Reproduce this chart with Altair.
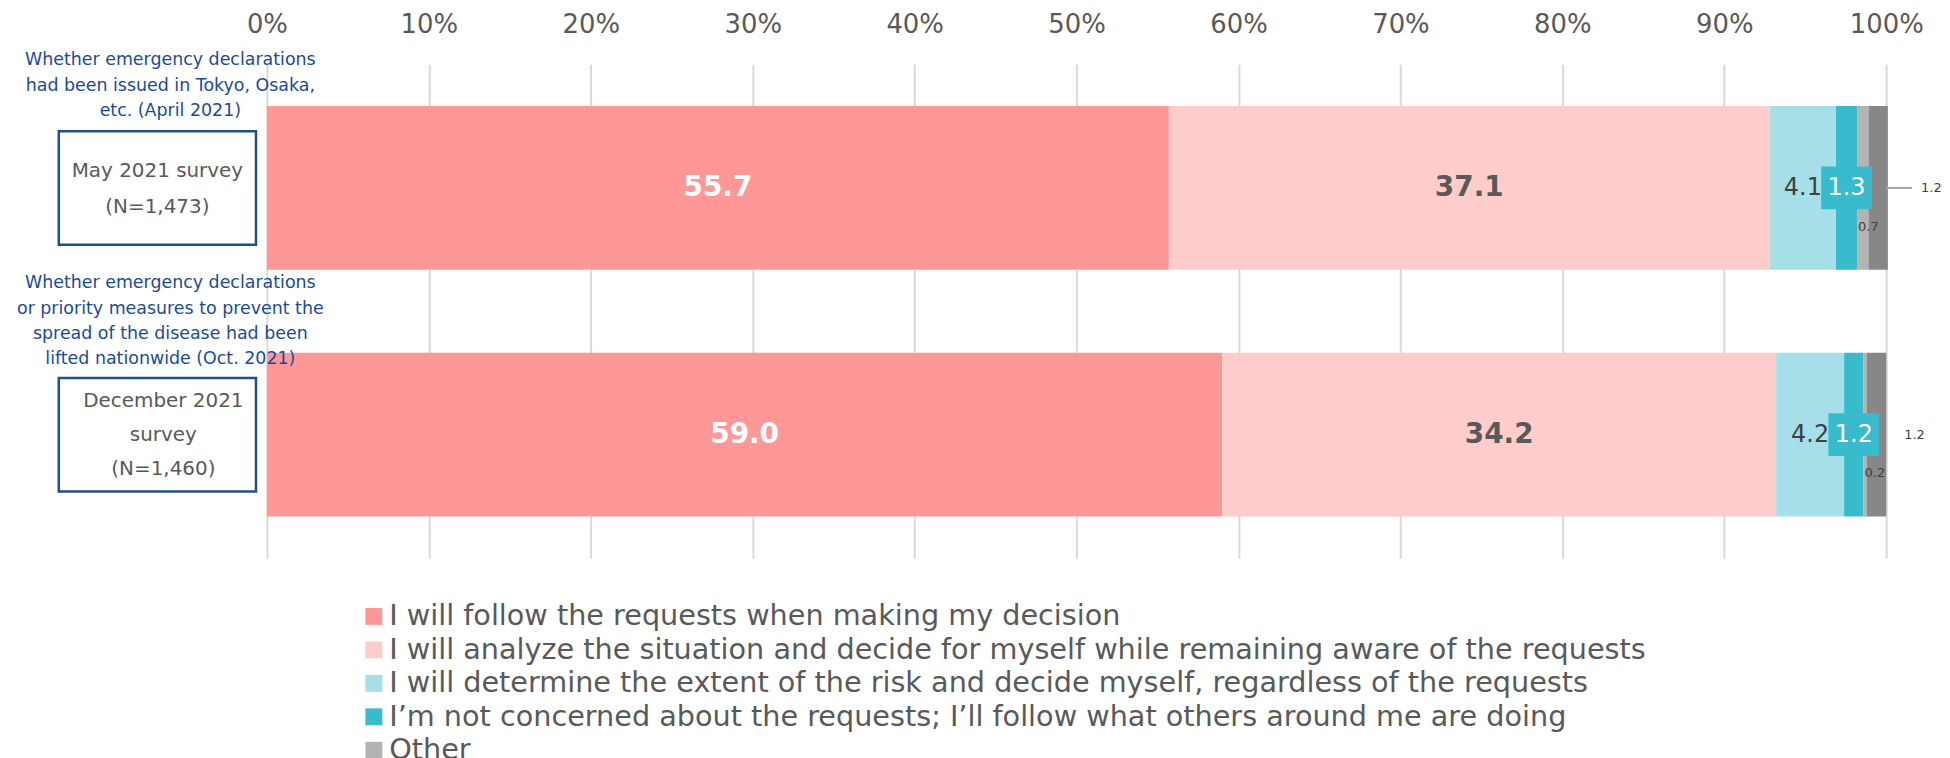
import altair as alt
import pandas as pd

surveys = ["May 2021 survey", "December 2021 survey"]
categories = [
    "I will follow the requests when making my decision",
    "I will analyze the situation and decide for myself while remaining aware of the requests",
    "I will determine the extent of the risk and decide myself, regardless of the requests",
    "I\u2019m not concerned about the requests; I\u2019ll follow what others around me are doing",
    "Other",
    "No answer",
]
may_values = [55.7, 37.1, 4.1, 1.3, 0.7, 1.2]
dec_values = [59.0, 34.2, 4.2, 1.2, 0.2, 1.2]
colors = ["#FF9797", "#FFCCCC", "#A6DFE7", "#38BBCD", "#B3B3B3", "#878787"]

box_texts = ["May 2021 survey\n(N=1,473)", "December 2021\nsurvey\n(N=1,460)"]
note_texts = [
    "Whether emergency declarations\nhad been issued in Tokyo, Osaka,\netc. (April 2021)",
    "Whether emergency declarations\nor priority measures to prevent the\nspread of the disease had been\nlifted nationwide (Oct. 2021)",
]

rows = []
for s, vals in zip(surveys, [may_values, dec_values]):
    for i, (c, v) in enumerate(zip(categories, vals)):
        rows.append({"survey": s, "category": c, "order": i, "value": v})
df = pd.DataFrame(rows)
ann = pd.DataFrame({"survey": surveys, "box": box_texts, "note": note_texts})

FONT = "DejaVu Sans"
GREY = "#595959"
DARK = "#404040"
BLUE = "#1B4A9B"

y = alt.Y("survey:N", sort=surveys, axis=None,
          scale=alt.Scale(paddingInner=0.336, paddingOuter=0.169))

base = alt.Chart(df).transform_calculate(
    frac="datum.value / 100"
).transform_stack(
    stack="frac", groupby=["survey"], sort=[alt.SortField("order")],
    as_=["v0", "v1"], offset="zero"
).transform_calculate(mid="(datum.v0 + datum.v1) / 2")

xq = alt.X("v0:Q", scale=alt.Scale(domain=[0, 1]),
           axis=alt.Axis(orient="top", format=".0%", values=[i / 10 for i in range(11)],
                         labelFontSize=26, labelColor=GREY, labelFont=FONT,
                         labelFlush=False, labelOverlap=False,
                         domain=False, ticks=False, labelPadding=27,
                         grid=True, gridColor="#D9D9D9", gridWidth=2, title=None))

bars = base.mark_bar().encode(
    x=xq, x2="v1:Q", y=y,
    color=alt.Color("category:N",
                    scale=alt.Scale(domain=categories, range=colors),
                    legend=alt.Legend(values=categories[:5], title=None, orient="none",
                                      legendX=93, legendY=540, direction="vertical",
                                      labelFontSize=28.8, labelColor=GREY, labelFont=FONT,
                                      symbolType="square", symbolSize=289,
                                      symbolStrokeWidth=0, rowPadding=3.6, labelOffset=1,
                                      labelLimit=0, padding=0)),
    order=alt.Order("order:Q"),
)

def seg(o):
    return base.transform_filter(f"datum.order == {o}")

lab0 = seg(0).mark_text(font=FONT, fontSize=28, fontWeight="bold", color="white").encode(
    x="mid:Q", y=y, text=alt.Text("value:Q", format=".1f"))
lab1 = seg(1).mark_text(font=FONT, fontSize=28, fontWeight="bold", color=GREY).encode(
    x="mid:Q", y=y, text=alt.Text("value:Q", format=".1f"))
lab2 = seg(2).mark_text(font=FONT, fontSize=24, color=DARK).encode(
    x="mid:Q", y=y, text=alt.Text("value:Q", format=".1f"))
tealbox = seg(3).mark_point(shape="M-1,-0.84L1,-0.84L1,0.84L-1,0.84Z", size=2601,
                            filled=True, color="#38BBCD", opacity=1, strokeWidth=0).encode(
    x="mid:Q", y=y)
lab3 = seg(3).mark_text(font=FONT, fontSize=24, color="white").encode(
    x="mid:Q", y=y, text=alt.Text("value:Q", format=".1f"))
lab4 = seg(4).mark_text(font=FONT, fontSize=13, color=DARK, align="left", dx=1, dy=39).encode(
    x="v0:Q", y=y, text=alt.Text("value:Q", format=".1f"))
lab5a = seg(5).transform_filter(f"datum.survey == '{surveys[0]}'").mark_text(
    font=FONT, fontSize=13, color=DARK, align="left", dx=35).encode(
    x=alt.value(1626), y=y, text=alt.Text("value:Q", format=".1f"))
lab5b = seg(5).transform_filter(f"datum.survey == '{surveys[1]}'").mark_text(
    font=FONT, fontSize=13, color=DARK, align="left", dx=18).encode(
    x=alt.value(1626), y=y, text=alt.Text("value:Q", format=".1f"))
leader = seg(5).transform_filter(f"datum.survey == '{surveys[0]}'").mark_rule(
    color="#A6A6A6", strokeWidth=2).encode(x=alt.value(1626), x2=alt.value(1652), y=y)

annc = alt.Chart(ann)
boxes = annc.mark_bar(height=114, fill="white", fillOpacity=0, stroke="#1F4E8C",
                      strokeWidth=2.5).encode(x=alt.value(-209), x2=alt.value(-11), y=y)

def ann_layer(i, field, dy, **kw):
    return annc.transform_filter(f"datum.survey == '{surveys[i]}'").mark_text(
        lineBreak="\n", dy=dy, font=FONT, **kw).encode(y=y, text=f"{field}:N")

box0 = ann_layer(0, "box", -17, fontSize=20, color=GREY, lineHeight=36,
                 baseline="middle").encode(x=alt.value(-110))
box1 = ann_layer(1, "box", -34, fontSize=20, color=GREY, lineHeight=34.5,
                 baseline="middle").encode(x=alt.value(-104))
note0 = ann_layer(0, "note", -119, fontSize=17.5, color=BLUE, lineHeight=25.5,
                  baseline="bottom").encode(x=alt.value(-97))
note1 = ann_layer(1, "note", -143, fontSize=17.5, color=BLUE, lineHeight=25.5,
                  baseline="bottom").encode(x=alt.value(-97))

chart = alt.layer(bars, lab0, lab1, lab2, tealbox, lab3, lab4, lab5a, lab5b, leader,
                  boxes, box0, box1, note0, note1).properties(
    width=1626, height=496,
    autosize=alt.AutoSizeParams(type="none"),
    padding={"left": 260, "top": 55, "right": 56, "bottom": 200},
).configure(font=FONT).configure_view(stroke=None)

chart.save("out.html", embed_options={"renderer": "svg", "actions": False})
